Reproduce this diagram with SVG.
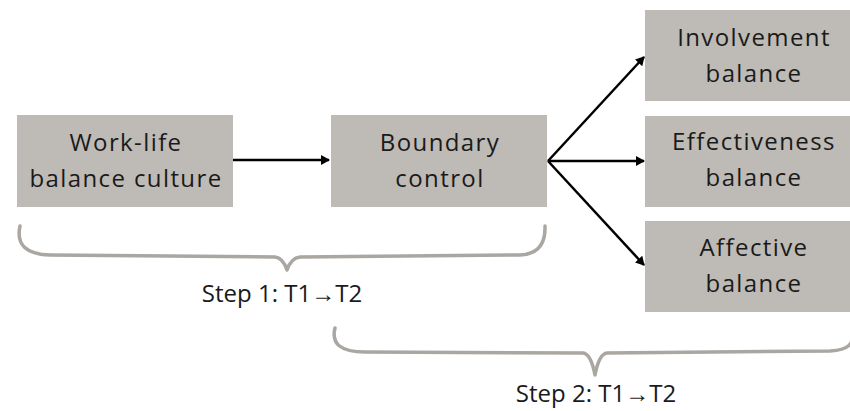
<svg xmlns="http://www.w3.org/2000/svg" width="850" height="411" viewBox="0 0 850 411">
<style>
.box{fill:#bebab5}
.t{font-family:"Open Sans","Noto Sans",sans-serif;font-size:24px;letter-spacing:1.4px;fill:#1a1a1a;text-anchor:middle}
.lbl{font-family:"Open Sans","Noto Sans",sans-serif;font-size:24px;fill:#1a1a1a;text-anchor:middle}
.c{stroke:#000;stroke-width:2.5;fill:none}
.br{stroke:#aaa6a1;stroke-width:3.5;fill:none;stroke-linecap:round;stroke-linejoin:round}
</style>
<defs>
<marker id="ah" markerWidth="10" markerHeight="10" refX="8" refY="5" orient="auto" markerUnits="userSpaceOnUse">
<path d="M0,0 L9,5 L0,10 Z" fill="#000"/>
</marker>
</defs>
<rect width="850" height="411" fill="#fff"/>
<g id="n1"><rect class="box" x="17" y="115" width="216" height="92"/><text class="t" x="126" y="151">Work-life</text><text class="t" x="126" y="187">balance culture</text></g>
<g id="n2"><rect class="box" x="331" y="115" width="216" height="92"/><text class="t" x="440" y="151">Boundary</text><text class="t" x="440" y="187">control</text></g>
<g id="n3"><rect class="box" x="645" y="10" width="215" height="91"/><text class="t" x="754" y="46">Involvement</text><text class="t" x="754" y="82">balance</text></g>
<g id="n4"><rect class="box" x="645" y="116" width="215" height="91"/><text class="t" x="754" y="150">Effectiveness</text><text class="t" x="754" y="186">balance</text></g>
<g id="n5"><rect class="box" x="645" y="221" width="215" height="91"/><text class="t" x="754" y="256">Affective</text><text class="t" x="754" y="292">balance</text></g>
<g id="connectors">
<line class="c" x1="233" y1="160" x2="329" y2="160" marker-end="url(#ah)"/>
<line class="c" x1="548" y1="161" x2="644" y2="57" marker-end="url(#ah)"/>
<line class="c" x1="548" y1="161" x2="644" y2="161" marker-end="url(#ah)"/>
<line class="c" x1="548" y1="161" x2="644" y2="265" marker-end="url(#ah)"/>
</g>
<g id="braces">
<path class="br" d="M20,226 Q14,254 50,255 L275,257 Q283,258 287,270 Q291,258 300,257 L520,255 Q546,254 545,226"/>
<path class="br" d="M335,328 Q329,352 365,352 L583,353 Q591,354 595,375 Q599,354 607,353 L830,351 Q850,350 852,340"/>
</g>
<text class="lbl" x="282" y="302">Step 1: T1→T2</text>
<text class="lbl" x="596" y="402">Step 2: T1→T2</text>
</svg>
